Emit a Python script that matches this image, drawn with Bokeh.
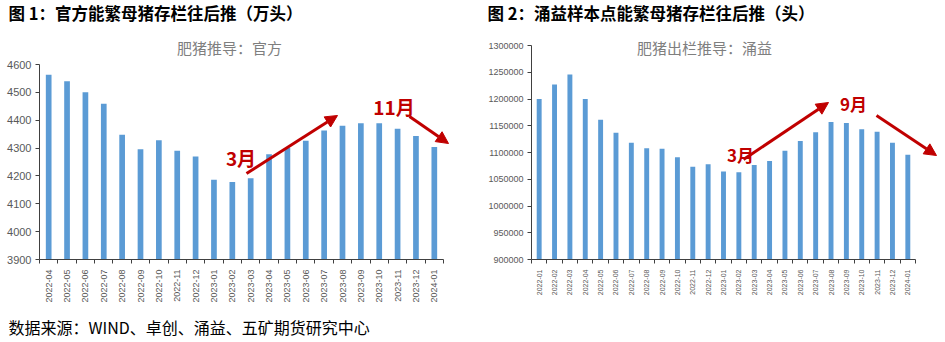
import math
from bokeh.plotting import figure
from bokeh.layouts import row, column
from bokeh.models import (ColumnDataSource, Range1d, FixedTicker, SingleIntervalTicker,
                          Label, Arrow, NormalHead, NumeralTickFormatter)
from bokeh.embed import file_html
from bokeh.resources import INLINE

# ---------------- data ----------------
months1 = ["2022-04", "2022-05", "2022-06", "2022-07", "2022-08", "2022-09", "2022-10",
           "2022-11", "2022-12", "2023-01", "2023-02", "2023-03", "2023-04", "2023-05",
           "2023-06", "2023-07", "2023-08", "2023-09", "2023-10", "2023-11", "2023-12",
           "2024-01"]
values1 = [4563, 4540, 4500, 4459, 4348, 4296, 4328, 4290, 4270, 4186, 4178, 4192,
           4278, 4300, 4326, 4363, 4380, 4389, 4389, 4369, 4343, 4304]

months2 = ["2022-01", "2022-02", "2022-03", "2022-04", "2022-05", "2022-06", "2022-07",
           "2022-08", "2022-09", "2022-10", "2022-11", "2022-12", "2023-01", "2023-02",
           "2023-03", "2023-04", "2023-05", "2023-06", "2023-07", "2023-08", "2023-09",
           "2023-10", "2023-11", "2023-12", "2024-01"]
values2 = [1200000, 1227000, 1246000, 1200000, 1161000, 1137000, 1118000, 1108000,
           1107000, 1091000, 1073500, 1078000, 1064700, 1063000, 1076700, 1084000,
           1103500, 1121600, 1137800, 1157000, 1155000, 1143400, 1139000, 1118000,
           1096000]

title1 = "图 1：官方能繁母猪存栏往后推（万头）"
subtitle1 = "肥猪推导：官方"
title2 = "图 2：涌益样本点能繁母猪存栏往后推（头）"
subtitle2 = "肥猪出栏推导：涌益"
footer = "数据来源：WIND、卓创、涌益、五矿期货研究中心"
notes1 = ["3月", "11月"]
notes2 = ["3月", "9月"]

BAR = "#5B9BD5"
RED = "#C00000"
AXIS = "#404040"
TICKTXT = "#595959"
CJK = "Noto Sans CJK SC"

W = 945
TOP_H = 28          # strip holding the two figure titles
FOOT_H = 28         # strip holding the source note
CH_H = 342 - TOP_H - FOOT_H


def text_strip(height):
    p = figure(width=W, height=height, output_backend="svg", toolbar_location=None,
               x_range=Range1d(0, W), y_range=Range1d(height, 0),
               x_axis_type=None, y_axis_type=None, min_border=0,
               min_border_left=0, min_border_right=0, min_border_top=0, min_border_bottom=0)
    p.outline_line_color = None
    p.grid.visible = False
    p.background_fill_color = "white"
    p.border_fill_color = "white"
    return p


class Chart:
    """All pixel arguments are page coordinates (top-left origin)."""

    def __init__(self, months, values, x0, width, fl, axis_right, fr, frame_top, axis_top, fb,
                 ymin, ymax, yint, bar_w, ytick_size, xtick_size, yfmt=None):
        n = len(months)
        self.x0, self.y0 = x0, TOP_H
        self.fl, self.axis_top, self.fb = fl, axis_top, fb
        self.ymin, self.ymax = ymin, ymax
        self.cat_px = (axis_right - fl) / n
        self.unit_per_px = (ymax - ymin) / (fb - axis_top)
        x_end = -0.5 + (fr - fl) / self.cat_px
        y_end = ymax + (axis_top - frame_top) * self.unit_per_px
        p = figure(width=width, height=CH_H, output_backend="svg", toolbar_location=None,
                   x_range=Range1d(-0.5, x_end), y_range=Range1d(ymin, y_end),
                   min_border_left=fl - x0, min_border_right=x0 + width - fr,
                   min_border_top=frame_top - TOP_H, min_border_bottom=TOP_H + CH_H - fb)
        p.outline_line_color = None
        p.xgrid.visible = False
        p.ygrid.visible = False
        p.background_fill_color = "white"
        p.border_fill_color = "white"

        src = ColumnDataSource(dict(x=list(range(n)), top=values, label=months))
        p.vbar(x="x", top="top", bottom=ymin, width=bar_w, source=src,
               fill_color=BAR, line_color=None)

        xa = p.xaxis[0]
        xa.bounds = (-0.5, n - 0.5)
        xa.ticker = FixedTicker(ticks=list(range(n)),
                                minor_ticks=[i - 0.5 for i in range(n + 1)])
        xa.major_label_overrides = {i: m for i, m in enumerate(months)}
        xa.major_label_orientation = math.pi / 2
        xa.major_tick_line_color = None
        xa.minor_tick_line_color = AXIS
        xa.minor_tick_in = 0
        xa.minor_tick_out = 4
        xa.axis_line_color = AXIS
        xa.major_label_text_font = "Liberation Sans"
        xa.major_label_text_font_size = xtick_size
        xa.major_label_text_color = TICKTXT
        xa.major_label_standoff = 4

        ya = p.yaxis[0]
        ya.bounds = (ymin, ymax)
        ya.ticker = SingleIntervalTicker(interval=yint, num_minor_ticks=0)
        ya.axis_line_color = AXIS
        ya.major_tick_line_color = AXIS
        ya.major_tick_in = 0
        ya.major_tick_out = 4
        ya.minor_tick_line_color = None
        ya.major_label_text_font = "Liberation Sans"
        ya.major_label_text_font_size = ytick_size
        ya.major_label_text_color = TICKTXT
        ya.major_label_standoff = 4
        if yfmt:
            ya.formatter = NumeralTickFormatter(format=yfmt)
        self.p = p

    def dx(self, cx):
        return -0.5 + (cx - self.fl) / self.cat_px

    def dy(self, cy):
        return self.ymax - (cy - self.axis_top) * self.unit_per_px

    def text(self, txt, cx, cy, **kw):
        self.p.add_layout(Label(x=self.dx(cx), y=self.dy(cy), text=txt,
                                text_baseline="middle", **kw))

    def arrow(self, xa, ya, xb, yb):
        self.p.add_layout(Arrow(x_start=self.dx(xa), y_start=self.dy(ya),
                                x_end=self.dx(xb), y_end=self.dy(yb),
                                line_color=RED, line_width=3,
                                end=NormalHead(size=12, fill_color=RED, line_color=RED)))


# ---------------- title strip ----------------
top = text_strip(TOP_H)
top.add_layout(Label(x=8, y=12, text=title1, text_font=CJK, text_font_size="16.5px",
                     text_font_style="bold", text_color="black", text_baseline="middle"))
top.add_layout(Label(x=487, y=12, text=title2, text_font=CJK, text_font_size="16.5px",
                     text_font_style="bold", text_color="black", text_baseline="middle"))

# ---------------- left chart ----------------
c1 = Chart(months1, values1, 0, 470, 39, 443, 452, 36, 64, 259,
           3900, 4600, 100, 0.31, "11px", "9px")
c1.text(subtitle1, 229, 47, text_font=CJK, text_font_size="15px", text_color="#7F7F7F",
        text_align="center")
c1.text(notes1[0], 240.5, 157, text_font=CJK, text_font_size="19px", text_font_style="bold",
        text_color=RED, text_align="center")
c1.text(notes1[1], 393.5, 106, text_font=CJK, text_font_size="19px", text_font_style="bold",
        text_color=RED, text_align="center")
c1.arrow(246, 173, 337, 115)
c1.arrow(409, 116, 448, 143)

# ---------------- right chart ----------------
c2 = Chart(months2, values2, 470, 475, 531, 915, 943, 36, 45, 259,
           900000, 1300000, 50000, 0.32, "9px", "7px", yfmt="0")
c2.text(subtitle2, 704, 47, text_font=CJK, text_font_size="15px", text_color="#7F7F7F",
        text_align="center")
c2.text(notes2[0], 740, 154, text_font=CJK, text_font_size="17px", text_font_style="bold",
        text_color=RED, text_align="center")
c2.text(notes2[1], 853, 103, text_font=CJK, text_font_size="17px", text_font_style="bold",
        text_color=RED, text_align="center")
c2.arrow(743, 159, 828, 102)
c2.arrow(876, 115, 936, 155)

# ---------------- footer strip ----------------
foot = text_strip(FOOT_H)
foot.add_layout(Label(x=8, y=12, text=footer, text_font=CJK, text_font_size="16px",
                      text_color="black", text_baseline="middle"))

layout = column(top, row(c1.p, c2.p, spacing=0), foot, spacing=0)
open("out.html", "w").write(file_html(layout, INLINE))
